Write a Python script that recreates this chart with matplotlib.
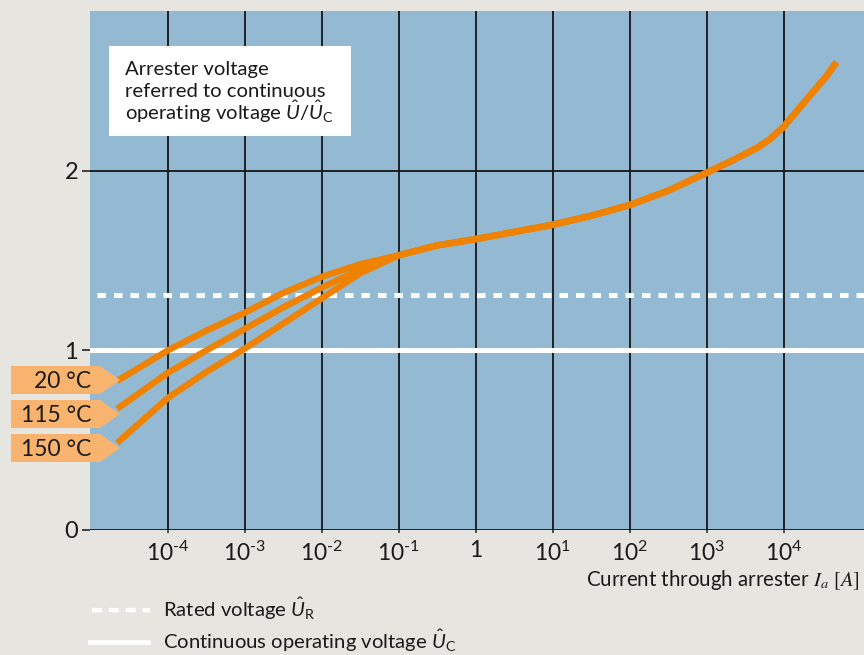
import matplotlib
matplotlib.use("Agg")
import matplotlib.pyplot as plt
from matplotlib.patches import Polygon, Rectangle
from matplotlib.lines import Line2D
import numpy as np

plt.rcParams['font.family'] = ['Lato', 'DejaVu Sans']
plt.rcParams['mathtext.fontset'] = 'custom'
plt.rcParams['mathtext.rm'] = 'Lato'
plt.rcParams['mathtext.it'] = 'Lato:italic'

# ---- data ----
current_low = [2.2e-5, 1e-4, 3.16e-4, 1e-3, 3.16e-3, 1e-2, 3.16e-2, 1e-1]
u_20 = [0.83, 1.00, 1.11, 1.21, 1.32, 1.41, 1.48, 1.53]
u_115 = [0.675, 0.875, 1.00, 1.12, 1.24, 1.35, 1.45, 1.53]
u_150 = [0.485, 0.735, 0.88, 1.01, 1.15, 1.29, 1.43, 1.53]

current_high = [1e-1, 3.16e-1, 1, 3.16, 10, 31.6, 100, 316, 1000, 2200, 4400,
                6600, 1e4, 1.95e4, 3.55e4, 4.8e4]
u_shared = [1.53, 1.585, 1.62, 1.66, 1.70, 1.75, 1.81, 1.89, 1.99, 2.06, 2.126,
            2.176, 2.247, 2.395, 2.526, 2.604]

temperatures = ['20 °C', '115 °C', '150 °C']
rated_voltage = 1.31
continuous_voltage = 1.0

x_ticks = [1e-4, 1e-3, 1e-2, 1e-1, 1, 10, 100, 1000, 1e4]
x_ticklabels = [r'$10^{\text{-4}}$', r'$10^{\text{-3}}$', r'$10^{\text{-2}}$',
                r'$10^{\text{-1}}$', '1', r'$10^{1}$', r'$10^{2}$', r'$10^{3}$',
                r'$10^{4}$']
y_ticks = [0, 1, 2]
box_lines = ['Arrester voltage', 'referred to continuous',
             'operating voltage $\\hat{U}/\\hat{U}_{\\mathrm{C}}$']

# ---- styling ----
BG = '#e6e5df'
BLUE = '#93bad2'
ORANGE = '#ef8200'
PEACH = '#f8b46f'
TXT = '#1a1a1a'

W, H = 864, 655
fig = plt.figure(figsize=(W / 100, H / 100), dpi=100, facecolor=BG)

def fx(px):
    return px / W

def fy(py):
    return 1 - py / H

ax = fig.add_axes([fx(90), fy(530), fx(864) - fx(90), fy(11) - fy(530)])
ax.set_facecolor(BLUE)
ax.set_xscale('log')
ax.set_xlim(10 ** -5.01, 10 ** 5.04)
ax.set_ylim(0, 2.89)
for s in ax.spines.values():
    s.set_visible(False)

ax.set_xticks(x_ticks)
ax.set_xticklabels(x_ticklabels)
ax.xaxis.set_minor_locator(matplotlib.ticker.NullLocator())
ax.set_yticks(y_ticks)
ax.tick_params(axis='x', length=2.5, width=1.2, color='#333333', pad=5,
               labelsize=16.5, labelcolor=TXT)
ax.tick_params(axis='y', length=5.5, width=1.3, color='#333333', pad=3,
               labelsize=17, labelcolor=TXT)
ax.grid(True, which='major', color='#151515', linewidth=1.3)
ax.set_axisbelow(True)

ax.axhline(rated_voltage, color='white', lw=3.6, ls=(1.9, (1.7, 1.6)), zorder=3)
ax.axhline(continuous_voltage, color='white', lw=3.6, zorder=3)

for u in (u_20, u_115, u_150):
    ax.plot(current_low + current_high[1:], u + u_shared[1:], color=ORANGE,
            lw=4.6, solid_capstyle='butt', solid_joinstyle='round', zorder=4)

# temperature labels (arrow boxes)
box_tops = [366, 400, 434]
for lab, top in zip(temperatures, box_tops):
    bot = top + 28
    mid = (top + bot) / 2
    pts = [(fx(11), fy(top)), (fx(100), fy(top)), (fx(120), fy(mid)),
           (fx(100), fy(bot)), (fx(11), fy(bot))]
    fig.add_artist(Polygon(pts, closed=True, transform=fig.transFigure,
                           facecolor=PEACH, edgecolor='none', zorder=5))
    fig.text(fx(91), fy(mid + 1), lab, ha='right', va='center', fontsize=16.5,
             color=TXT, zorder=6)

# annotation box
fig.add_artist(Rectangle((fx(109), fy(136)), fx(351) - fx(109), fy(46) - fy(136),
                         transform=fig.transFigure, facecolor='white',
                         edgecolor='none', zorder=5))
for line, base in zip(box_lines, [75, 97, 120]):
    fig.text(fx(125), fy(base), line, ha='left', va='baseline', fontsize=14.6,
             color=TXT, zorder=6)

# x-axis label
fig.text(fx(860), fy(580), 'Current through arrester $I_a$ $[A]$', ha='right',
         va='center', fontsize=14.8, color=TXT, math_fontfamily='stix')

# legend
fig.add_artist(Line2D([fx(92), fx(150)], [fy(610), fy(610)], transform=fig.transFigure,
                      color='white', lw=3.2, ls=(0, (2.2, 1.6))))
fig.add_artist(Line2D([fx(90), fx(148)], [fy(642), fy(642)], transform=fig.transFigure,
                      color='white', lw=3.4))
fig.text(fx(163), fy(609), 'Rated voltage $\\hat{U}_{\\mathrm{R}}$', ha='left',
         va='center', fontsize=14.6, color=TXT)
fig.text(fx(163), fy(641), 'Continuous operating voltage $\\hat{U}_{\\mathrm{C}}$',
         ha='left', va='center', fontsize=14.6, color=TXT)

fig.savefig('out.png', dpi=100, facecolor=BG)
